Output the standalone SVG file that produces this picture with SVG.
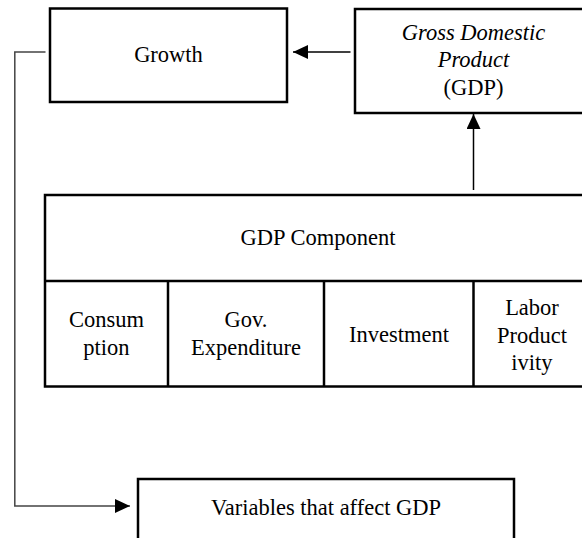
<svg xmlns="http://www.w3.org/2000/svg" width="582" height="538" viewBox="0 0 582 538">
<style>
.box{fill:#fff;stroke:#000;stroke-width:2.5}
.div{stroke:#000;stroke-width:2.5;fill:none}
.t{font-family:"Liberation Serif","Times New Roman",serif;font-size:22.5px;fill:#000;text-anchor:middle}
.i{font-style:italic}
.c{fill:none;stroke:#000;stroke-width:1.5}
.g{fill:none;stroke:#444;stroke-width:1.5}
</style>
<defs>
<marker id="ah" markerUnits="userSpaceOnUse" markerWidth="15" markerHeight="14" refX="15" refY="7" orient="auto">
<path d="M0,0 L15,7 L0,14 Z" fill="#000"/>
</marker>
</defs>
<rect width="582" height="538" fill="#fff"/>
<g id="connectors">
<line class="c" x1="350.5" y1="52" x2="293" y2="52" marker-end="url(#ah)"/>
<line class="c" x1="473.5" y1="190" x2="473.5" y2="114" marker-end="url(#ah)"/>
<polyline class="g" points="45.5,52 14.8,52 14.8,506 130,506" marker-end="url(#ah)"/>
</g>
<g id="growth">
<rect class="box" x="50" y="8.5" width="237" height="93.5"/>
<text class="t" x="168.5" y="62">Growth</text>
</g>
<g id="gdp">
<rect class="box" x="355" y="9" width="240" height="104"/>
<text class="t i" x="473.5" y="40">Gross Domestic</text>
<text class="t i" x="473.5" y="67">Product</text>
<text class="t" x="473.5" y="95">(GDP)</text>
</g>
<g id="gdp-component">
<rect class="box" x="45" y="195" width="546" height="191.5"/>
<line class="div" x1="45" y1="281" x2="591" y2="281"/>
<text class="t" x="318" y="245">GDP Component</text>
</g>
<g id="consumption">
<text class="t" x="106.5" y="327">Consum</text>
<text class="t" x="106.5" y="355">ption</text>
</g>
<g id="gov-expenditure">
<line class="div" x1="168" y1="281" x2="168" y2="386.5"/>
<text class="t" x="246" y="327">Gov.</text>
<text class="t" x="246" y="355">Expenditure</text>
</g>
<g id="investment">
<line class="div" x1="324" y1="281" x2="324" y2="386.5"/>
<text class="t" x="399" y="342">Investment</text>
</g>
<g id="labor-productivity">
<line class="div" x1="473.5" y1="281" x2="473.5" y2="386.5"/>
<text class="t" x="532" y="315">Labor</text>
<text class="t" x="532" y="343">Product</text>
<text class="t" x="532" y="370">ivity</text>
</g>
<g id="variables">
<rect class="box" x="138" y="479" width="376" height="80"/>
<text class="t" x="326" y="515">Variables that affect GDP</text>
</g>
</svg>
